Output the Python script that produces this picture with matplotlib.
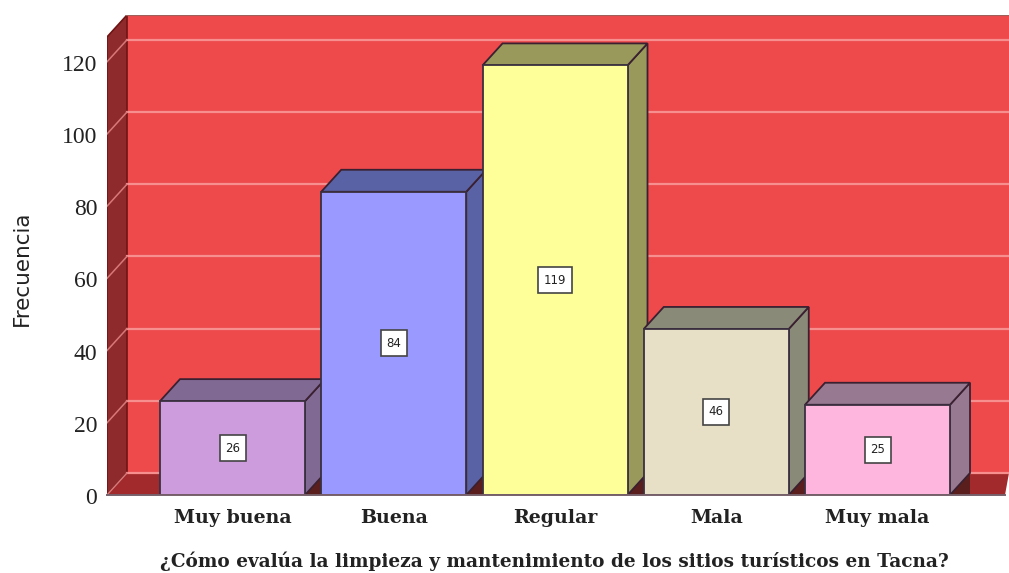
import matplotlib
matplotlib.use("Agg")
import matplotlib.pyplot as plt
from matplotlib.patches import Polygon, Rectangle
from matplotlib.transforms import ScaledTranslation

categories = ["Muy buena", "Buena", "Regular", "Mala", "Muy mala"]
values = [26, 84, 119, 46, 25]
y_ticks = [0, 20, 40, 60, 80, 100, 120]
front_colors = ["#CC9CDC", "#9999FF", "#FFFF99", "#E8E0C6", "#FFB6DE"]
side_colors = ["#806A94", "#5A62A6", "#99995C", "#8A8A78", "#977A92"]
x_label = "¿Cómo evalúa la limpieza y mantenimiento de los sitios turísticos en Tacna?"
y_label = "Frecuencia"

W, H = 1009, 573
L, R, B, T = 107, 1009, 495, 15
PX_X = 161.25
PX_Y = 3.61
DX = 20 / PX_X
DY = 22 / PX_Y
BAR_W = 145 / PX_X

fig = plt.figure(figsize=(W / 100, H / 100), dpi=100, facecolor="white")
ax = fig.add_axes([L / W, 1 - B / H, (R - L) / W, (B - T) / H])
x0 = (L - 232.5) / PX_X
x1 = (R - 232.5) / PX_X
y1 = (B - T) / PX_Y
ax.set_xlim(x0, x1)
ax.set_ylim(0, y1)
ax.patch.set_visible(False)
for s in ax.spines.values():
    s.set_visible(False)

# walls
ax.add_patch(Polygon([(x0 + DX, DY), (x1, DY), (x1, y1), (x0 + DX, y1)],
                     fc="#EE4A4C", ec="none", zorder=1))
ax.plot([x0 + DX, x1], [y1, y1], color="#A0605A", lw=1.6, zorder=1.5)
ax.add_patch(Polygon([(x0, 0), (x0 + DX, DY), (x1, DY), (x1 - 4 / PX_X, 0)],
                     fc="#A32A2C", ec="none", zorder=1.2))
ax.add_patch(Polygon([(x0, 0), (x0, y1 - DY), (x0 + DX, y1), (x0 + DX, DY)],
                     fc="#8E2A2C", ec="#6E1414", lw=1.2, zorder=1.3))
for t in y_ticks:
    ax.plot([x0 + DX, x1], [t + DY, t + DY], color="#F78F8F", lw=1.6, zorder=1.4)
    ax.plot([x0, x0 + DX], [t, t + DY], color="#D97878", lw=1.1, zorder=1.4)

# bars
for i, (v, fc, sc) in enumerate(zip(values, front_colors, side_colors)):
    z = 2 + i
    l, r = i - BAR_W / 2, i + BAR_W / 2
    ax.add_patch(Polygon([(r, 0), (r + DX, DY), (r + DX, 0)],
                         fc="#5A1F1C", ec="none", zorder=z))
    ax.add_patch(Polygon([(r, 0), (r + DX, DY), (r + DX, v + DY), (r, v)],
                         fc=sc, ec="#3A2030", lw=1.3, zorder=z))
    ax.add_patch(Polygon([(l, v), (l + DX, v + DY), (r + DX, v + DY), (r, v)],
                         fc=sc, ec="#3A2030", lw=1.3, zorder=z))
    ax.bar(i, v, width=BAR_W, color=fc, edgecolor="#3A3040", linewidth=1.3, zorder=z + 0.1)
    box_w = (len(str(v)) * 8 + 10) / PX_X
    box_h = 26 / PX_Y
    ax.add_patch(Rectangle((i - box_w / 2, v / 2 - box_h / 2), box_w, box_h,
                           fc="white", ec="#444444", lw=1.2, zorder=z + 0.2))
    ax.text(i, v / 2, str(v), ha="center", va="center", fontsize=8.5,
            family="DejaVu Sans", color="#222222", zorder=z + 0.3)
ax.plot([x0, x1 - 4 / PX_X], [0, 0], color="#77606A", lw=1.4, zorder=9, clip_on=False)

ax.set_xticks(range(len(categories)), categories, family="DejaVu Serif",
              weight="bold", fontsize=13.7, color="#222222")
ax.set_yticks(y_ticks, [str(t) for t in y_ticks], family="Liberation Serif",
              fontsize=17, color="#222222")
ax.tick_params(axis="both", length=0)
ax.tick_params(axis="x", pad=10)
ax.tick_params(axis="y", pad=7)
shift = ScaledTranslation(0, -1 / 100, fig.dpi_scale_trans)
for lab in ax.get_yticklabels():
    lab.set_transform(lab.get_transform() + shift)
fig.text(554 / W, 1 - 561 / H, x_label, ha="center", va="center",
         family="DejaVu Serif", weight="bold", fontsize=13.3, color="#222222")
fig.text(22 / W, 1 - 268 / H, y_label, ha="center", va="center", rotation=90,
         family="DejaVu Sans", fontsize=15.5, color="#222222")

fig.savefig("out.png", dpi=100)
